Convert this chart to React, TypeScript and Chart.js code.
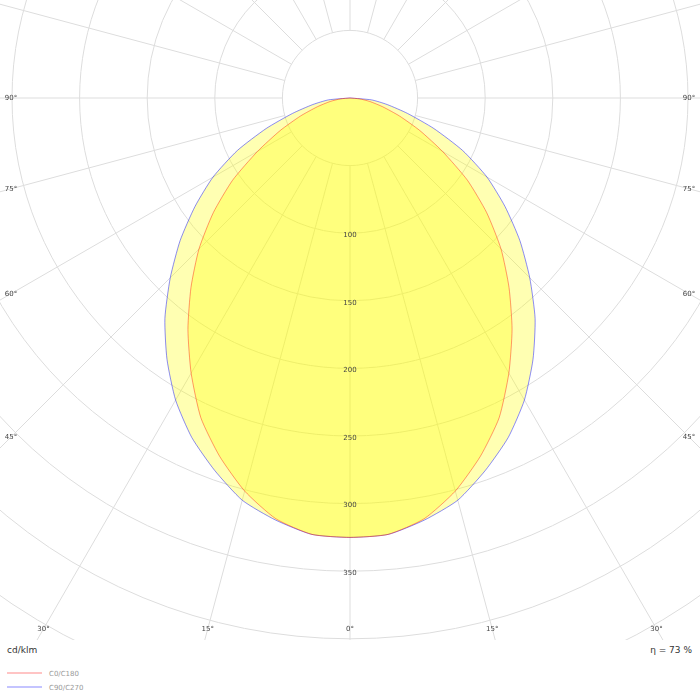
import { useEffect, useRef } from 'react'
import { Chart, registerables } from 'chart.js'

Chart.register(...registerables)

// gamma angles (deg) and intensities (cd/klm)
const gammas = [0, 5, 10, 15, 20, 25, 30, 35, 40, 45, 50, 55, 60, 65, 70, 75, 80, 85, 90]
const c0c180 = [325, 324, 316, 301, 282, 261, 235, 209, 183, 158, 132, 106, 79, 57, 39, 25, 15, 7, 0]
const c90c270 = [325, 324, 317, 308, 293, 277, 258, 236, 213, 188, 164, 140, 117, 92, 66, 44, 28, 16, 0]

const ringValues = [50, 100, 150, 200, 250, 300, 350, 400, 450, 500, 550, 600, 650, 700]
const ringLabels = [100, 150, 200, 250, 300, 350]
const spokeStep = 15
const angleLabels = [0, 15, 30, 45, 60, 75, 90]

const PPU = 1.352 // px per cd/klm
const CX = 350
const CY = 98
const W = 700
const H = 640

const rad = (d: number) => (d * Math.PI) / 180

function toXY(vals: number[]) {
  // C180 (left) from 90 down to 0, then C0 (right) from 0 up to 90
  const pts: { x: number; y: number }[] = []
  for (let i = gammas.length - 1; i >= 0; i--) {
    const g = rad(gammas[i])
    pts.push({ x: -vals[i] * Math.sin(g), y: -vals[i] * Math.cos(g) })
  }
  for (let i = 1; i < gammas.length; i++) {
    const g = rad(gammas[i])
    pts.push({ x: vals[i] * Math.sin(g), y: -vals[i] * Math.cos(g) })
  }
  return pts
}

const polarGrid = {
  id: 'polarGrid',
  beforeDatasetsDraw(chart: any) {
    const { ctx, scales } = chart
    const xs = scales.x
    const ys = scales.y
    const cx = xs.getPixelForValue(0)
    const cy = ys.getPixelForValue(0)
    const k = xs.getPixelForValue(1) - cx
    ctx.save()
    ctx.strokeStyle = '#dddddd'
    ctx.lineWidth = 1
    for (const v of ringValues) {
      ctx.beginPath()
      ctx.arc(cx, cy, v * k, 0, Math.PI * 2)
      ctx.stroke()
    }
    for (let a = 0; a < 360; a += spokeStep) {
      const dx = Math.sin(rad(a))
      const dy = Math.cos(rad(a))
      ctx.beginPath()
      ctx.moveTo(cx + dx * 50 * k, cy + dy * 50 * k)
      ctx.lineTo(cx + dx * 800 * k, cy + dy * 800 * k)
      ctx.stroke()
    }
    ctx.restore()
  },
  afterDatasetsDraw(chart: any) {
    const { ctx, scales } = chart
    const xs = scales.x
    const ys = scales.y
    const cx = xs.getPixelForValue(0)
    const cy = ys.getPixelForValue(0)
    ctx.save()
    ctx.font = '7px "DejaVu Sans"'
    ctx.fillStyle = '#444444'
    ctx.textAlign = 'center'
    ctx.textBaseline = 'middle'
    for (const v of ringLabels) {
      ctx.fillText(String(v), cx, ys.getPixelForValue(-v) + 2)
    }
    const left = 11
    const right = W - 11
    const bottom = 629
    for (const g of angleLabels) {
      for (const side of g === 0 ? [1] : [-1, 1]) {
        const dx = side * Math.sin(rad(g))
        const dy = Math.cos(rad(g))
        let t = Infinity
        if (Math.abs(dx) > 1e-6) t = Math.min(t, (side > 0 ? right - cx : cx - left) / Math.abs(dx))
        if (dy > 1e-6) t = Math.min(t, (bottom - cy) / dy)
        ctx.fillText(`${g}°`, cx + dx * t, cy + dy * t)
      }
    }
    ctx.restore()
  },
}

export default function App() {
  const ref = useRef<HTMLCanvasElement>(null)

  useEffect(() => {
    if (!ref.current) return
    const chart = new Chart(ref.current, {
      type: 'scatter',
      data: {
        datasets: [
          {
            label: 'C0/C180',
            data: toXY(c0c180),
            showLine: true,
            borderColor: 'rgba(255,0,0,0.4)',
            backgroundColor: 'rgba(255,255,0,0.3)',
            borderWidth: 1,
            pointRadius: 0,
            tension: 0.2,
            fill: 'shape',
          },
          {
            label: 'C90/C270',
            data: toXY(c90c270),
            showLine: true,
            borderColor: 'rgba(0,0,255,0.45)',
            backgroundColor: 'rgba(255,255,0,0.3)',
            borderWidth: 1,
            pointRadius: 0,
            tension: 0.2,
            fill: 'shape',
          },
        ],
      },
      options: {
        responsive: true,
        maintainAspectRatio: false,
        animation: false,
        layout: { padding: 0 },
        plugins: { legend: { display: false }, tooltip: { enabled: false } },
        scales: {
          x: { type: 'linear', display: false, min: -CX / PPU, max: (W - CX) / PPU },
          y: { type: 'linear', display: false, min: -(H - CY) / PPU, max: CY / PPU },
        },
      },
      plugins: [polarGrid],
    })
    return () => chart.destroy()
  }, [])

  return (
    <div style={{ position: 'absolute', left: 0, top: 0, width: 700, height: 700, background: '#fff', fontFamily: '"DejaVu Sans", sans-serif' }}>
      <div style={{ position: 'absolute', left: 0, top: 0, width: W, height: H }}>
        <canvas ref={ref} />
      </div>
      <div style={{ position: 'absolute', left: 7, top: 645, fontSize: 9, color: '#333' }}>cd/klm</div>
      <div style={{ position: 'absolute', right: 8, top: 645, fontSize: 9, color: '#333' }}>η = 73 %</div>
      <div style={{ position: 'absolute', left: 7, top: 672, width: 35, borderTop: '2px solid #ffc4c4' }} />
      <div style={{ position: 'absolute', left: 49, top: 670, fontSize: 7, color: '#999' }}>C0/C180</div>
      <div style={{ position: 'absolute', left: 7, top: 686, width: 35, borderTop: '2px solid #c4c4ff' }} />
      <div style={{ position: 'absolute', left: 49, top: 684, fontSize: 7, color: '#999' }}>C90/C270</div>
    </div>
  )
}
